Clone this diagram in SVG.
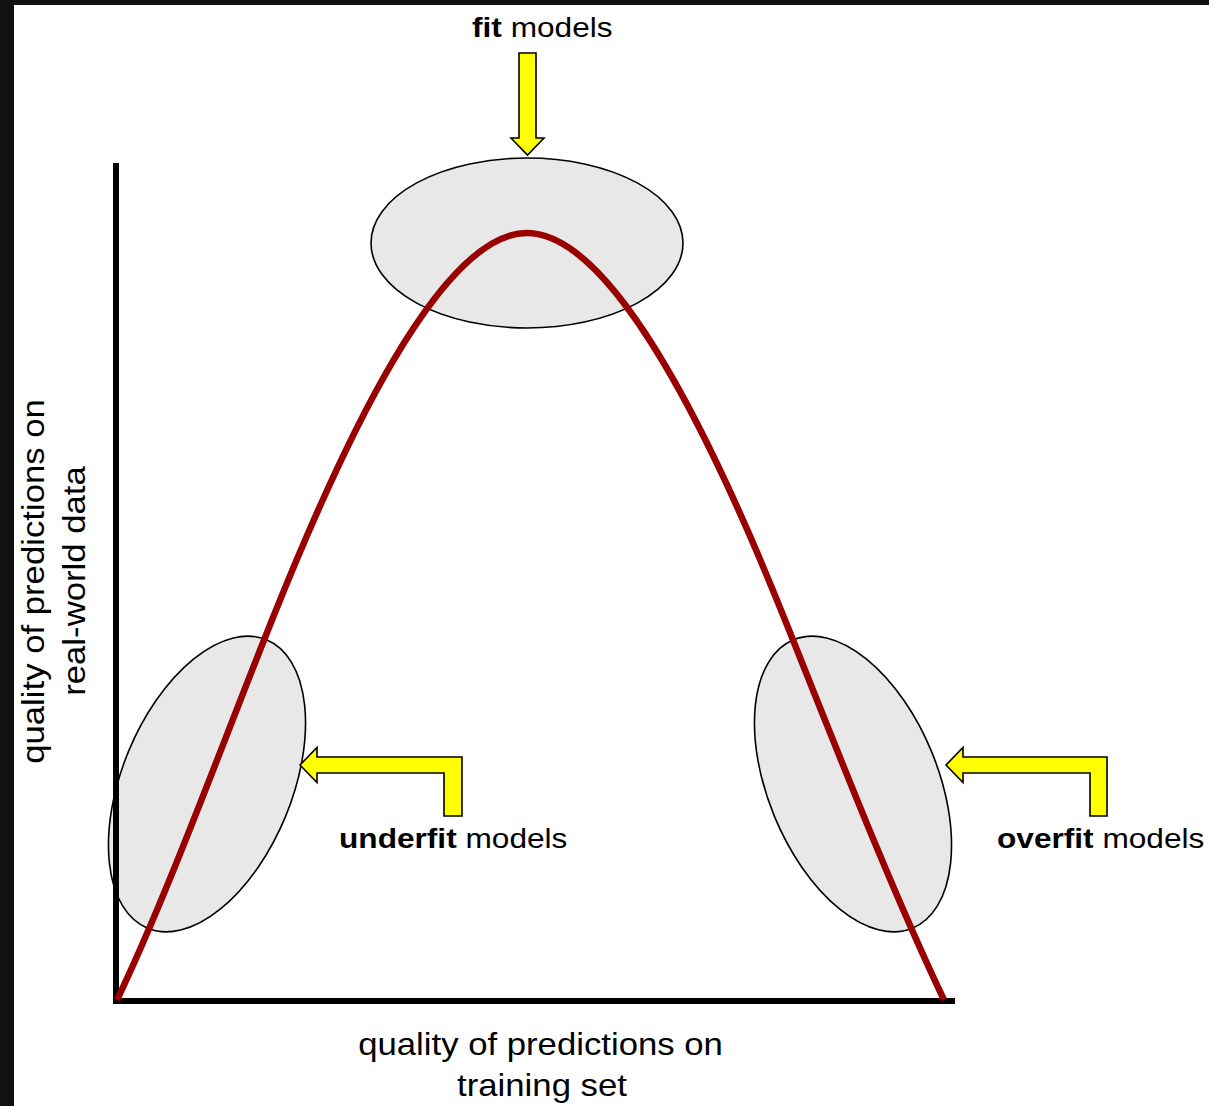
<svg xmlns="http://www.w3.org/2000/svg" width="1209" height="1106" viewBox="0 0 1209 1106">
  <style>
    .lbl { font-family: "Liberation Sans", Arial, sans-serif; fill: #000; }
    .node { font-size: 28px; }
    .axis-lbl { font-size: 31px; }
    .b { font-weight: bold; }
    .blob { fill: #e8e8e8; stroke: #000; stroke-width: 1.6; }
    .arrow { fill: #ffff00; stroke: #000; stroke-width: 1.6; stroke-linejoin: miter; }
    .axis { stroke: #000; stroke-width: 6; fill: none; }
    .curve { stroke: #990000; stroke-width: 6.5; fill: none; }
  </style>
  <rect x="0" y="0" width="1209" height="1106" fill="#ffffff"/>
  <rect x="0" y="0" width="1209" height="5" fill="#111111"/>
  <rect x="0" y="0" width="14" height="1106" fill="#111111"/>

  <g id="fit-region">
    <ellipse class="blob" cx="527" cy="243" rx="156" ry="85"/>
  </g>
  <g id="underfit-region">
    <ellipse class="blob" cx="207" cy="784" rx="85" ry="156" transform="rotate(22.4 207 784)"/>
  </g>
  <g id="overfit-region">
    <ellipse class="blob" cx="853" cy="784" rx="85" ry="156" transform="rotate(-22.4 853 784)"/>
  </g>

  <g id="axes">
    <path class="axis" d="M116,163 L116,1001 L955,1001"/>
  </g>

  <g id="curve">
    <path class="curve" d="M117,1000 C168.7,891.5 220.3,749 272,620 C342,445 440,233 527,233 C614,233 715,445 785,620 C838,752.5 891,888.7 944,1000"/>
  </g>

  <g id="connectors">
    <polygon class="arrow" points="519,53 536,53 536,138 544,138 527.5,155 511,138 519,138"/>
    <polygon class="arrow" points="300,765 317,747.5 317,757 462,757 462,816 444,816 444,773 317,773 317,782.5"/>
    <polygon class="arrow" points="946,765 963,747.5 963,757 1107,757 1107,816 1090,816 1090,773 963,773 963,782.5"/>
  </g>

  <g id="fit-label">
    <text class="lbl node" transform="translate(472,37) scale(1.13,1)"><tspan class="b">fit</tspan> models</text>
  </g>
  <g id="underfit-label">
    <text class="lbl node" transform="translate(339,848) scale(1.13,1)"><tspan class="b">underfit</tspan> models</text>
  </g>
  <g id="overfit-label">
    <text class="lbl node" transform="translate(997,848) scale(1.13,1)"><tspan class="b">overfit</tspan> models</text>
  </g>

  <g id="x-axis-label">
    <text class="lbl axis-lbl" text-anchor="middle" transform="translate(540.5,1055) scale(1.12,1)">quality of predictions on</text>
    <text class="lbl axis-lbl" text-anchor="middle" transform="translate(542,1096) scale(1.12,1)">training set</text>
  </g>
  <g id="y-axis-label">
    <text class="lbl axis-lbl" text-anchor="middle" transform="translate(44,581.5) rotate(-90) scale(1.12,1)">quality of predictions on</text>
    <text class="lbl axis-lbl" text-anchor="middle" transform="translate(85,581) rotate(-90) scale(1.12,1)">real-world data</text>
  </g>
</svg>
